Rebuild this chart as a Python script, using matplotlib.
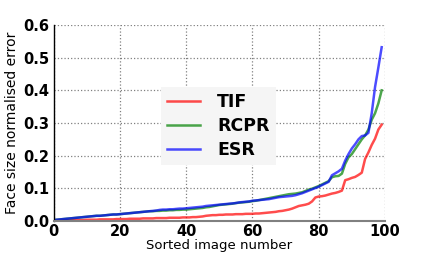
import matplotlib
matplotlib.use("Agg")
import matplotlib.pyplot as plt

# Sorted image index
image_number = list(range(100))

# Face size normalised error per method
tif = [0.000, 0.001, 0.001, 0.002, 0.002, 0.002, 0.003, 0.003, 0.003, 0.003,
       0.004, 0.004, 0.004, 0.004, 0.005, 0.005, 0.005, 0.005, 0.005, 0.006,
       0.006, 0.006, 0.006, 0.007, 0.007, 0.007, 0.007, 0.008, 0.008, 0.008,
       0.008, 0.009, 0.009, 0.009, 0.009, 0.010, 0.010, 0.010, 0.010, 0.011,
       0.011, 0.011, 0.012, 0.012, 0.013, 0.014, 0.016, 0.017, 0.018, 0.018,
       0.019, 0.019, 0.020, 0.020, 0.020, 0.021, 0.021, 0.021, 0.022, 0.022,
       0.022, 0.023, 0.023, 0.024, 0.025, 0.026, 0.027, 0.028, 0.030, 0.031,
       0.033, 0.035, 0.038, 0.042, 0.046, 0.048, 0.050, 0.053, 0.060, 0.072,
       0.075, 0.076, 0.078, 0.081, 0.084, 0.086, 0.089, 0.093, 0.125, 0.128,
       0.132, 0.135, 0.141, 0.148, 0.190, 0.210, 0.233, 0.252, 0.280, 0.295]

rcpr = [0.003, 0.004, 0.005, 0.006, 0.007, 0.008, 0.009, 0.010, 0.011, 0.012,
        0.013, 0.014, 0.015, 0.016, 0.016, 0.017, 0.018, 0.019, 0.020, 0.020,
        0.021, 0.022, 0.023, 0.024, 0.025, 0.026, 0.027, 0.028, 0.029, 0.030,
        0.030, 0.031, 0.031, 0.032, 0.032, 0.033, 0.033, 0.034, 0.034, 0.035,
        0.035, 0.036, 0.037, 0.038, 0.039, 0.040, 0.042, 0.043, 0.045, 0.047,
        0.049, 0.050, 0.051, 0.052, 0.053, 0.055, 0.056, 0.057, 0.058, 0.059,
        0.061, 0.062, 0.064, 0.066, 0.068, 0.070, 0.072, 0.074, 0.076, 0.078,
        0.080, 0.082, 0.083, 0.084, 0.086, 0.088, 0.092, 0.096, 0.099, 0.103,
        0.107, 0.112, 0.117, 0.122, 0.134, 0.137, 0.138, 0.145, 0.175, 0.195,
        0.205, 0.220, 0.235, 0.250, 0.262, 0.280, 0.310, 0.330, 0.360, 0.400]

esr = [0.003, 0.004, 0.005, 0.006, 0.007, 0.008, 0.009, 0.010, 0.011, 0.012,
       0.013, 0.014, 0.015, 0.016, 0.016, 0.017, 0.018, 0.019, 0.020, 0.020,
       0.021, 0.022, 0.023, 0.024, 0.025, 0.026, 0.027, 0.028, 0.029, 0.030,
       0.031, 0.032, 0.034, 0.035, 0.035, 0.036, 0.036, 0.037, 0.038, 0.038,
       0.039, 0.040, 0.041, 0.042, 0.043, 0.044, 0.046, 0.047, 0.048, 0.049,
       0.050, 0.051, 0.052, 0.053, 0.054, 0.055, 0.057, 0.058, 0.059, 0.060,
       0.062, 0.063, 0.064, 0.065, 0.066, 0.067, 0.069, 0.071, 0.073, 0.074,
       0.075, 0.076, 0.077, 0.079, 0.082, 0.085, 0.089, 0.093, 0.097, 0.101,
       0.105, 0.110, 0.115, 0.120, 0.140, 0.146, 0.152, 0.160, 0.185, 0.205,
       0.222, 0.235, 0.250, 0.260, 0.262, 0.270, 0.330, 0.410, 0.470, 0.532]

x_ticks = [0, 20, 40, 60, 80, 100]
y_ticks = [0.0, 0.1, 0.2, 0.3, 0.4, 0.5, 0.6]

fig = plt.figure(figsize=(4.28, 2.57), dpi=100)
ax = fig.add_axes([0.125, 0.14, 0.7745, 0.7627])

ax.plot(image_number, tif, color='r', alpha=0.7, linewidth=1.8, label='TIF')
ax.plot(image_number, rcpr, color='g', alpha=0.7, linewidth=1.8, label='RCPR')
ax.plot(image_number, esr, color='b', alpha=0.7, linewidth=1.8, label='ESR')

ax.set_xlim(0, 100)
ax.set_ylim(0, 0.6)
ax.set_xticks(x_ticks)
ax.set_yticks(y_ticks)
ax.set_xticklabels([str(t) for t in x_ticks], fontsize=10.5, fontweight='bold')
ax.set_yticklabels(['%.1f' % t for t in y_ticks], fontsize=10.5, fontweight='bold')
ax.tick_params(axis='y', length=0, pad=3)
ax.tick_params(axis='x', length=0, pad=2)
ax.grid(True, linestyle=':', color='gray', linewidth=0.9)
ax.spines['top'].set_visible(False)
ax.spines['right'].set_visible(False)
ax.spines['left'].set_linewidth(1.0)
ax.spines['bottom'].set_color('gray')
ax.spines['bottom'].set_linewidth(1.5)

# tight bottom margin: keep the x label inside the image
ax.set_xlabel('Sorted image number', fontsize=9.5, labelpad=0)
ax.set_ylabel('Face size normalised error', fontsize=10, labelpad=3)

leg = ax.legend(loc='upper left', bbox_to_anchor=(0.376, 0.661),
                bbox_transform=fig.transFigure, borderaxespad=0,
                prop={'weight': 'bold', 'size': 12.5},
                handlelength=1.9, handletextpad=1.0, labelspacing=0.35,
                borderpad=0.35, fancybox=False)
leg.get_frame().set_facecolor('#f5f5f5')
leg.get_frame().set_edgecolor('none')
leg.get_frame().set_alpha(1.0)

fig.savefig('out.png', dpi=100)
